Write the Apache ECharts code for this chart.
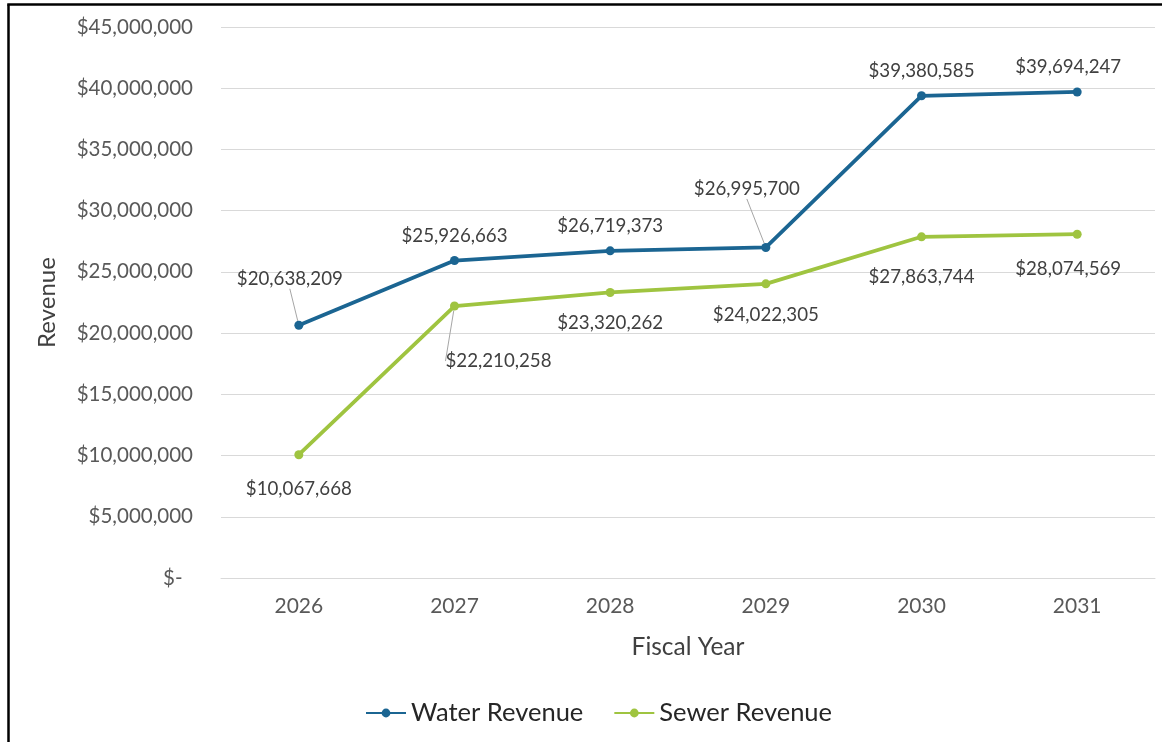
<!DOCTYPE html>
<html>
<head>
<meta charset="utf-8">
<script src="https://cdn.jsdelivr.net/npm/echarts@6/dist/echarts.min.js"></script>
<style>
  html, body { margin: 0; padding: 0; background: #ffffff; }
  #chart { width: 1162px; height: 742px; }
</style>
</head>
<body>
<div id="chart"></div>
<script>
// Fiscal years on the x axis
const fiscalYears = ['2026', '2027', '2028', '2029', '2030', '2031'];
// Projected revenue per year, in dollars
const waterRevenue = [20638209, 25926663, 26719373, 26995700, 39380585, 39694247];
const sewerRevenue = [10067668, 22210258, 23320262, 24022305, 27863744, 28074569];
// Value axis range and step
const revenueMin = 0;
const revenueMax = 45000000;
const revenueStep = 5000000;

const FONT = 'Lato, "Open Sans", sans-serif';
const WATER = '#1B6592';
const SEWER = '#9FC440';

function dollars(v) {
  return '$' + Math.round(v).toLocaleString('en-US');
}

// Label nudges (dx, dy) for crowded points, and which ones get a leader line
const waterNudge = { 0: [-9, -21], 3: [-19, -33], 5: [-9, 0] };
const sewerNudge = { 0: [0, 3], 1: [44, 24], 4: [0, 9], 5: [-9, 4] };
const waterLeader = { 0: true, 3: true };
const sewerLeader = { 1: true };

function buildData(values, leaders) {
  return values.map((v, i) => ({
    value: v,
    labelLine: { show: !!leaders[i] }
  }));
}

const chart = echarts.init(document.getElementById('chart'), null, { renderer: 'canvas' });

chart.setOption({
  animation: false,
  backgroundColor: '#ffffff',
  textStyle: { fontFamily: FONT },
  grid: { left: 221, right: 7, top: 27, bottom: 164, containLabel: false },
  legend: {
    left: 360,
    top: 695,
    itemWidth: 40,
    itemHeight: 11,
    itemGap: 30,
    textStyle: { fontFamily: FONT, fontSize: 25.5, color: '#262626' },
    data: ['Water Revenue', 'Sewer Revenue']
  },
  xAxis: {
    type: 'category',
    data: fiscalYears,
    boundaryGap: true,
    name: 'Fiscal Year',
    nameLocation: 'middle',
    nameGap: 57,
    nameTextStyle: { fontFamily: FONT, fontSize: 24.5, color: '#404040' },
    axisLine: { show: true, lineStyle: { color: '#d9d9d9', width: 1 } },
    axisTick: { show: false },
    axisLabel: { margin: 18, fontFamily: FONT, fontSize: 21, color: '#595959' },
    splitLine: { show: false }
  },
  yAxis: {
    type: 'value',
    min: revenueMin,
    max: revenueMax,
    interval: revenueStep,
    name: 'Revenue',
    nameLocation: 'middle',
    nameGap: 162,
    nameRotate: 90,
    nameTextStyle: { fontFamily: FONT, fontSize: 24, color: '#404040' },
    axisLine: { show: false },
    axisTick: { show: false },
    axisLabel: {
      margin: 28,
      fontFamily: FONT,
      fontSize: 20.5,
      color: '#595959',
      formatter: v => (v === 0 ? '$-  ' : dollars(v))
    },
    splitLine: { show: true, lineStyle: { color: '#d9d9d9', width: 1 } }
  },
  graphic: [
    { type: 'line', shape: { x1: 8.5, y1: 4.5, x2: 8.5, y2: 742 }, style: { stroke: '#000', lineWidth: 2.5 } },
    { type: 'line', shape: { x1: 7.25, y1: 4.5, x2: 1162, y2: 4.5 }, style: { stroke: '#000', lineWidth: 2.5 } }
  ],
  series: [
    {
      name: 'Water Revenue',
      type: 'line',
      data: buildData(waterRevenue, waterLeader),
      symbol: 'circle',
      symbolSize: 9,
      color: WATER,
      lineStyle: { color: WATER, width: 3.75 },
      itemStyle: { color: WATER },
      label: {
        show: true,
        position: 'top',
        distance: 11,
        fontFamily: FONT,
        fontSize: 18.7,
        color: '#404040',
        formatter: p => dollars(p.value)
      },
      labelLine: { show: false, lineStyle: { color: '#a6a6a6', width: 1 } },
      labelLayout: p => {
        const n = waterNudge[p.dataIndex];
        return n ? { dx: n[0], dy: n[1] } : {};
      },
      z: 3
    },
    {
      name: 'Sewer Revenue',
      type: 'line',
      data: buildData(sewerRevenue, sewerLeader),
      symbol: 'circle',
      symbolSize: 9,
      color: SEWER,
      lineStyle: { color: SEWER, width: 3.75 },
      itemStyle: { color: SEWER },
      label: {
        show: true,
        position: 'bottom',
        distance: 17,
        fontFamily: FONT,
        fontSize: 18.7,
        color: '#404040',
        formatter: p => dollars(p.value)
      },
      labelLine: { show: false, lineStyle: { color: '#a6a6a6', width: 1 } },
      labelLayout: p => {
        const n = sewerNudge[p.dataIndex];
        return n ? { dx: n[0], dy: n[1] } : {};
      },
      z: 2
    }
  ]
});
</script>
</body>
</html>
